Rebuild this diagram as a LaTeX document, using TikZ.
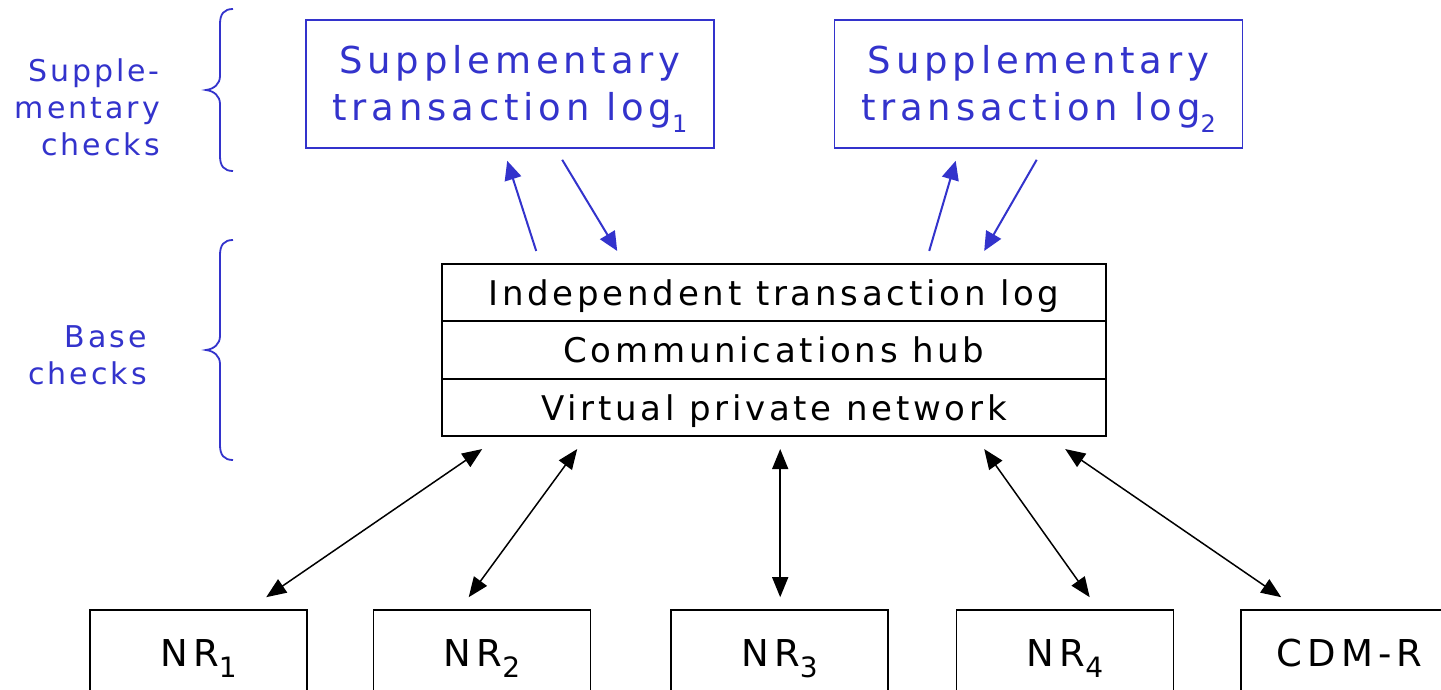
\documentclass[tikz,border=0pt]{standalone}
\usepackage{fontspec}
\setmainfont{DejaVu Sans}
\newfontfamily\fBlue[LetterSpace=13]{DejaVu Sans}
\newfontfamily\fMid[LetterSpace=11]{DejaVu Sans}
\newfontfamily\fNR[LetterSpace=14]{DejaVu Sans}
\newfontfamily\fLab[LetterSpace=10]{DejaVu Sans}
\usetikzlibrary{arrows.meta,calc}
\definecolor{myblue}{RGB}{51,51,204}
\newcommand{\lowsub}[2]{\raisebox{-0.3em}{\fontsize{#1}{#1}\selectfont #2}}
\tikzset{
  blubox/.style={draw=myblue, line width=1.6pt, minimum width=408pt, minimum height=128pt, inner sep=0pt, text=myblue, align=center, text height=74pt, text depth=0pt, font=\fontsize{37}{47}\selectfont\fBlue},
  rowbox/.style={draw=black, line width=1.6pt, minimum width=664pt, minimum height=57.5pt, inner sep=0pt, text height=25pt, text depth=0pt, font=\fontsize{34}{40}\selectfont\fMid},
  nrbox/.style={draw=black, line width=1.6pt, minimum width=217pt, minimum height=96pt, inner sep=0pt, text height=27pt, text depth=11pt, font=\fontsize{37}{42}\selectfont\fNR},
  lab/.style={text=myblue, align=right, anchor=east, inner sep=0pt, font=\fontsize{30}{37}\selectfont\fLab},
  barrow/.style={draw=myblue, line width=2pt, -{Triangle[length=19pt,width=17pt]}},
  karrow/.style={draw=black, line width=1.5pt, {Triangle[length=20pt,width=16pt]}-{Triangle[length=20pt,width=16pt]}},
  bracestyle/.style={draw=myblue, line width=1.8pt}
}
\begin{document}
\begin{tikzpicture}[x=1pt,y=-1pt]
\clip (0,0) rectangle (1441,690);
\fill[white] (0,0) rectangle (1441,690);
% top boxes
\node[blubox] (sl1) at (510,84) {Supplementary\\transaction log\lowsub{24}{1}};
\node[blubox] (sl2) at (1038.5,84) {Supplementary\\transaction log\lowsub{24}{2}};
% middle stack
\node[rowbox] (itl) at (774,292.5) {Independent transaction log};
\node[rowbox] (hub) at (774,350) {Communications hub};
\node[rowbox] (vpn) at (774,407.5) {Virtual private network};
% bottom boxes
\node[nrbox] (nr1) at (198.5,658) {NR\lowsub{28}{1}};
\node[nrbox] (nr2) at (482,658) {NR\lowsub{28}{2}};
\node[nrbox] (nr3) at (779.5,658) {NR\lowsub{28}{3}};
\node[nrbox] (nr4) at (1065,658) {NR\lowsub{28}{4}};
\node[nrbox] (cdm) at (1349.5,658) {CDM-R};
% labels
\node[lab] (supl) at (160,107) {Supple-\\mentary\\checks};
\node[lab] (basel) at (147,355) {Base\\checks};
% braces
\draw[bracestyle] (233,9) .. controls (224,9) and (220,14) .. (220,24) -- (220,76)
  .. controls (220,84) and (214,89) .. (206,90)
  .. controls (214,91) and (220,96) .. (220,104) -- (220,156)
  .. controls (220,166) and (224,171) .. (233,171);
\draw[bracestyle] (233,240) .. controls (224,240) and (220,245) .. (220,255) -- (220,336)
  .. controls (220,344) and (214,349) .. (206,350)
  .. controls (214,351) and (220,356) .. (220,364) -- (220,445)
  .. controls (220,455) and (224,460) .. (233,460);
% blue arrows
\draw[barrow] ($(itl.north west)+(95,-12)$) -- ($(sl1.south west)+(202,12)$);
\draw[barrow] ($(sl1.south west)+(257,11)$) -- ($(itl.north west)+(176,-12)$);
\draw[barrow] ($(itl.north west)+(488,-12)$) -- ($(sl2.south west)+(122,12)$);
\draw[barrow] ($(sl2.south west)+(203,11)$) -- ($(itl.north west)+(543,-12)$);
% black arrows
\draw[karrow] ($(vpn.south west)+(41,12)$) -- ($(nr1.north west)+(177,-12)$);
\draw[karrow] ($(vpn.south west)+(136,12)$) -- ($(nr2.north west)+(96,-12)$);
\draw[karrow] ($(vpn.south west)+(339,12)$) -- ($(nr3.north west)+(110,-12)$);
\draw[karrow] ($(vpn.south west)+(543,12)$) -- ($(nr4.north west)+(134,-12)$);
\draw[karrow] ($(vpn.south west)+(624,12)$) -- ($(cdm.north west)+(41,-12)$);
\end{tikzpicture}
\end{document}
